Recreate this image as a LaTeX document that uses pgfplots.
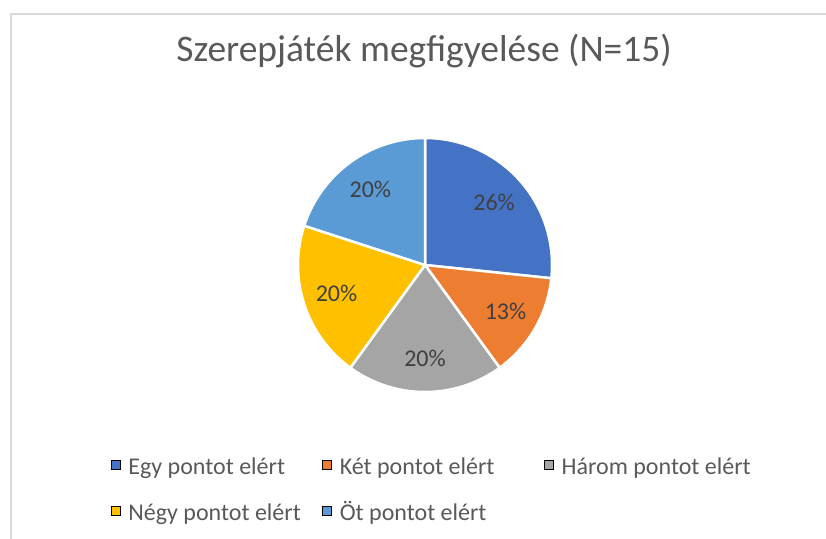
\documentclass[border=0pt]{standalone}
\usepackage{pgfplots}
\pgfplotsset{compat=1.18}
\usepackage{pgfplotstable}
\usepackage{fontspec}
\setmainfont{Carlito}
\definecolor{cA}{HTML}{4472C4}
\definecolor{cB}{HTML}{ED7D31}
\definecolor{cC}{HTML}{A5A5A5}
\definecolor{cD}{HTML}{FFC000}
\definecolor{cE}{HTML}{5B9BD5}
\definecolor{titlec}{HTML}{595959}
\definecolor{labc}{HTML}{404040}
\definecolor{framec}{HTML}{D9D9D9}

\pgfplotstableread{
label value
Egy 4
Ket 2
Harom 3
Negy 3
Ot 3
}\piedata
\pgfplotstablegetelem{0}{value}\of\piedata\edef\vA{\pgfplotsretval}
\pgfplotstablegetelem{1}{value}\of\piedata\edef\vB{\pgfplotsretval}
\pgfplotstablegetelem{2}{value}\of\piedata\edef\vC{\pgfplotsretval}
\pgfplotstablegetelem{3}{value}\of\piedata\edef\vD{\pgfplotsretval}
\pgfplotstablegetelem{4}{value}\of\piedata\edef\vE{\pgfplotsretval}
\pgfmathsetmacro\tot{\vA+\vB+\vC+\vD+\vE}
\pgfmathsetmacro\aA{90}
\pgfmathsetmacro\aB{\aA-360*\vA/\tot}
\pgfmathsetmacro\aC{\aB-360*\vB/\tot}
\pgfmathsetmacro\aD{\aC-360*\vC/\tot}
\pgfmathsetmacro\aE{\aD-360*\vD/\tot}
\pgfmathsetmacro\aF{\aE-360*\vE/\tot}
\pgfmathsetmacro\mA{(\aA+\aB)/2}
\pgfmathsetmacro\mB{(\aB+\aC)/2}
\pgfmathsetmacro\mC{(\aC+\aD)/2}
\pgfmathsetmacro\mD{(\aD+\aE)/2}
\pgfmathsetmacro\mE{(\aE+\aF)/2}
\def\cx{425}
\def\cy{273}
\def\R{127}
\def\L{93}

\begin{document}
\begin{tikzpicture}
\begin{axis}[
  width=826pt, height=538pt, scale only axis,
  xmin=0, xmax=826, ymin=0, ymax=538,
  hide axis, clip=false,
  legend image code/.code={\fill[#1] (0pt,-9.5pt) rectangle (9pt,-0.5pt); \path (17pt,0pt);},
  legend columns=3,
  legend style={at={(axis cs:111,94.5)}, anchor=north west, draw=none, fill=none,
    inner sep=0pt, outer sep=0pt, column sep=0pt, row sep=14pt,
    nodes={inner sep=0pt, outer sep=0pt}, cells={anchor=west},
    font=\fontsize{24}{28}\selectfont, text=titlec},
]
\addplot[fill=cA, draw=white, line width=2.5pt, domain=\aB:\aA, samples=90, forget plot]
  ({\cx+\R*cos(x)},{\cy+\R*sin(x)}) -- (\cx,\cy) -- cycle;
\addplot[fill=cB, draw=white, line width=2.5pt, domain=\aC:\aB, samples=60, forget plot]
  ({\cx+\R*cos(x)},{\cy+\R*sin(x)}) -- (\cx,\cy) -- cycle;
\addplot[fill=cC, draw=white, line width=2.5pt, domain=\aD:\aC, samples=80, forget plot]
  ({\cx+\R*cos(x)},{\cy+\R*sin(x)}) -- (\cx,\cy) -- cycle;
\addplot[fill=cD, draw=white, line width=2.5pt, domain=\aE:\aD, samples=80, forget plot]
  ({\cx+\R*cos(x)},{\cy+\R*sin(x)}) -- (\cx,\cy) -- cycle;
\addplot[fill=cE, draw=white, line width=2.5pt, domain=\aF:\aE, samples=80, forget plot]
  ({\cx+\R*cos(x)},{\cy+\R*sin(x)}) -- (\cx,\cy) -- cycle;

\addlegendimage{fill=cA}
\addlegendentry{\makebox[194pt][l]{\rule[-15.3pt]{0pt}{46pt}Egy pontot elért}}
\addlegendimage{fill=cB}
\addlegendentry{\makebox[204.5pt][l]{\rule[-15.3pt]{0pt}{46pt}Két pontot elért}}
\addlegendimage{fill=cC}
\addlegendentry{\makebox[230pt][l]{\rule[-15.3pt]{0pt}{46pt}Három pontot elért}}
\addlegendimage{fill=cD}
\addlegendentry{\makebox[194pt][l]{\rule[-15.3pt]{0pt}{46pt}Négy pontot elért}}
\addlegendimage{fill=cE}
\addlegendentry{\makebox[204.5pt][l]{\rule[-15.3pt]{0pt}{46pt}Öt pontot elért}}

\begin{scope}[every node/.style={font=\fontsize{24}{28}\selectfont, text=labc}]
\node at (axis cs:{\cx+\L*cos(\mA)},{\cy+\L*sin(\mA)}) {26\%};
\node at (axis cs:{\cx+\L*cos(\mB)},{\cy+\L*sin(\mB)}) {13\%};
\node at (axis cs:{\cx+\L*cos(\mC)},{\cy+\L*sin(\mC)}) {20\%};
\node at (axis cs:{\cx+\L*cos(\mD)},{\cy+\L*sin(\mD)}) {20\%};
\node at (axis cs:{\cx+\L*cos(\mE)},{\cy+\L*sin(\mE)}) {20\%};
\end{scope}

\node[anchor=base, font=\fontsize{37.5}{44}\selectfont, text=titlec] at (axis cs:424,476) {Szerepjáték megfigyelése (N=15)};

\draw[framec, line width=1.4pt] (axis cs:11,-5) -- (axis cs:11,524) -- (axis cs:840,524);
\end{axis}
\pgfresetboundingbox
\path (0,0) rectangle (826pt,538pt);
\end{tikzpicture}
\end{document}
